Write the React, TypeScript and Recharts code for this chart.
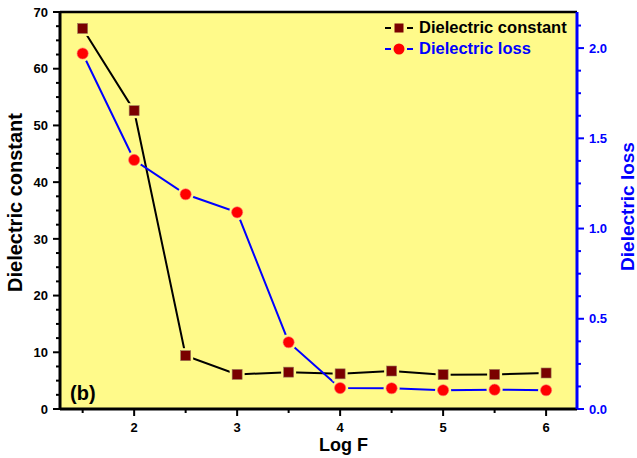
import React from 'react';
import { LineChart, Line, XAxis, YAxis, CartesianGrid, ReferenceLine } from 'recharts';

// data
const logF = [1.5, 2, 2.5, 3, 3.5, 4, 4.5, 5, 5.5, 6];
const dielectricConstant = [67.1, 52.6, 9.4, 6.1, 6.5, 6.2, 6.7, 6.05, 6.1, 6.35];
const dielectricLoss = [1.97, 1.38, 1.19, 1.09, 0.37, 0.116, 0.115, 0.104, 0.107, 0.104];

const xTicks = [1.5, 2, 2.5, 3, 3.5, 4, 4.5, 5, 5.5, 6];
const leftMajor = [0, 10, 20, 30, 40, 50, 60, 70];
const rightMajor = [0, 0.5, 1.0, 1.5, 2.0];

const BG = '#FFFA8A';
const BLUE = '#0000FF';
const FONT = "Arial, 'Liberation Sans', sans-serif";

const chartData = logF.map((f, i) => ({
  logF: f,
  constant: dielectricConstant[i],
  loss: dielectricLoss[i],
}));

// minor ticks: 3 between each pair of majors
const withMinor = (majors: number[], extraTop: boolean) => {
  const out: number[] = [];
  for (let i = 0; i < majors.length - 1; i++) {
    const a = majors[i];
    const step = (majors[i + 1] - a) / 4;
    for (let k = 0; k < 4; k++) out.push(a + step * k);
  }
  const last = majors[majors.length - 1];
  out.push(last);
  if (extraTop) {
    const step = (majors[1] - majors[0]) / 4;
    out.push(last + step);
  }
  return out;
};

const leftTicks = withMinor(leftMajor, false);
const rightTicks = withMinor(rightMajor, true);

const isMajor = (v: number, list: number[]) => list.some((m) => Math.abs(m - v) < 1e-6);

const LeftTick = (props: any) => {
  const { x, y, payload } = props;
  const major = isMajor(payload.value, leftMajor);
  return (
    <g>
      <line x1={x} x2={x - (major ? 7 : 4)} y1={y} y2={y} stroke="#000" strokeWidth={2} />
      {major && (
        <text x={x - 12} y={y} dy="0.36em" textAnchor="end" fontFamily={FONT} fontWeight="bold" fontSize={13} fill="#000">
          {payload.value}
        </text>
      )}
    </g>
  );
};

const RightTick = (props: any) => {
  const { x, y, payload } = props;
  const major = isMajor(payload.value, rightMajor);
  return (
    <g>
      <line x1={x} x2={x + (major ? 7 : 4)} y1={y} y2={y} stroke={BLUE} strokeWidth={2} />
      {major && (
        <text x={x + 12} y={y} dy="0.36em" textAnchor="start" fontFamily={FONT} fontWeight="bold" fontSize={13} fill={BLUE}>
          {payload.value.toFixed(1)}
        </text>
      )}
    </g>
  );
};

const BottomTick = (props: any) => {
  const { x, y, payload } = props;
  const major = Number.isInteger(payload.value);
  return (
    <g>
      <line x1={x} x2={x} y1={y} y2={y + (major ? 7 : 4)} stroke="#000" strokeWidth={2} />
      {major && (
        <text x={x} y={y + 23} textAnchor="middle" fontFamily={FONT} fontWeight="bold" fontSize={13} fill="#000">
          {payload.value}
        </text>
      )}
    </g>
  );
};

// markers with a background-coloured halo so the line stops short of them
const SquareDot = (props: any) => {
  const { cx, cy, index } = props;
  if (cx == null || cy == null) return <g key={`sq-${index}`} />;
  return (
    <g key={`sq-${index}`}>
      <rect x={cx - 5} y={cy - 5} width={10} height={10} fill={BG} stroke={BG} strokeWidth={5} />
      <rect x={cx - 5} y={cy - 5} width={10} height={10} fill="#7A0000" stroke="#9a7a5a" strokeWidth={0.6} />
    </g>
  );
};

const CircleDot = (props: any) => {
  const { cx, cy, index } = props;
  if (cx == null || cy == null) return <g key={`ci-${index}`} />;
  return (
    <g key={`ci-${index}`}>
      <circle cx={cx} cy={cy} r={5.6} fill={BG} stroke={BG} strokeWidth={5} />
      <circle cx={cx} cy={cy} r={5.6} fill="#FF0000" stroke="#ff7070" strokeWidth={0.6} />
    </g>
  );
};

const LegendSymbol = ({ color, shape }: { color: string; shape: 'square' | 'circle' }) => (
  <svg width={30} height={14} style={{ marginRight: 4 }}>
    <line x1={0} x2={6} y1={7} y2={7} stroke={color} strokeWidth={2} />
    <line x1={22} x2={28} y1={7} y2={7} stroke={color} strokeWidth={2} />
    {shape === 'square' ? (
      <rect x={9.5} y={2.5} width={9} height={9} fill="#7A0000" />
    ) : (
      <circle cx={14} cy={7} r={5.5} fill="#FF0000" />
    )}
  </svg>
);

export default function App() {
  return (
    <div style={{ position: 'absolute', left: 0, top: 0, width: 637, height: 458, background: '#fff', fontFamily: FONT }}>
      <LineChart width={637} height={458} data={chartData} margin={{ top: 12, right: 0, bottom: 0, left: 0 }}>
        <CartesianGrid horizontal={false} vertical={false} fill={BG} stroke="none" />
        <XAxis
          dataKey="logF"
          type="number"
          domain={[1.28, 6.3]}
          ticks={xTicks}
          interval={0}
          height={49}
          tickSize={0}
          tickMargin={0}
          tickLine={false}
          axisLine={{ stroke: '#000', strokeWidth: 3 }}
          tick={<BottomTick />}
          label={{
            content: (p: any) => {
              const vb = p.viewBox;
              return (
                <text x={vb.x + vb.width / 2 + 25} y={vb.y + 42} textAnchor="middle" fontFamily={FONT} fontWeight="bold" fontSize={18} fill="#000">
                  Log F
                </text>
              );
            },
          }}
        />
        <YAxis
          yAxisId="left"
          orientation="left"
          domain={[0, 70]}
          ticks={leftTicks}
          interval={0}
          width={60}
          tickSize={0}
          tickMargin={0}
          tickLine={false}
          axisLine={{ stroke: '#000', strokeWidth: 3 }}
          tick={<LeftTick />}
          label={{
            content: (p: any) => {
              const vb = p.viewBox;
              const cx = vb.x + 15;
              const cy = vb.y + vb.height / 2 - 8;
              return (
                <text x={cx} y={cy} transform={`rotate(-90 ${cx} ${cy})`} dy="0.36em" textAnchor="middle" fontFamily={FONT} fontWeight="bold" fontSize={20} fill="#000">
                  Dielectric constant
                </text>
              );
            },
          }}
        />
        <YAxis
          yAxisId="right"
          orientation="right"
          domain={[0, 2.2]}
          ticks={rightTicks}
          interval={0}
          width={60}
          tickSize={0}
          tickMargin={0}
          tickLine={false}
          axisLine={{ stroke: BLUE, strokeWidth: 3 }}
          tick={<RightTick />}
          label={{
            content: (p: any) => {
              const vb = p.viewBox;
              const cx = vb.x + 50;
              const cy = vb.y + vb.height / 2 - 4;
              return (
                <text x={cx} y={cy} transform={`rotate(-90 ${cx} ${cy})`} dy="0.36em" textAnchor="middle" fontFamily={FONT} fontWeight="bold" fontSize={19} fill={BLUE}>
                  Dielectric loss
                </text>
              );
            },
          }}
        />
        <ReferenceLine yAxisId="left" y={70} stroke="#000" strokeWidth={2.5} />
        <Line
          yAxisId="left"
          dataKey="constant"
          type="linear"
          stroke="#000"
          strokeWidth={2}
          dot={(p: any) => <SquareDot {...p} key={`sq-${p.index}`} />}
          activeDot={false}
          isAnimationActive={false}
        />
        <Line
          yAxisId="right"
          dataKey="loss"
          type="linear"
          stroke={BLUE}
          strokeWidth={2}
          dot={(p: any) => <CircleDot {...p} key={`ci-${p.index}`} />}
          activeDot={false}
          isAnimationActive={false}
        />
      </LineChart>

      {/* legend, top right inside the plot */}
      <div style={{ position: 'absolute', left: 385, top: 17, fontWeight: 'bold', fontSize: 16.5, lineHeight: '21px' }}>
        <div style={{ display: 'flex', alignItems: 'center', color: '#000' }}>
          <LegendSymbol color="#000" shape="square" />
          <span>Dielectric constant</span>
        </div>
        <div style={{ display: 'flex', alignItems: 'center', color: BLUE }}>
          <LegendSymbol color={BLUE} shape="circle" />
          <span>Dielectric loss</span>
        </div>
      </div>

      <div style={{ position: 'absolute', left: 70, top: 382, fontWeight: 'bold', fontSize: 20, color: '#000' }}>(b)</div>
    </div>
  );
}
